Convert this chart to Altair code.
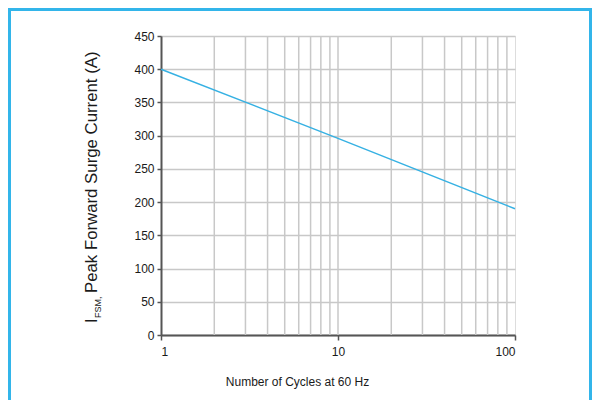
import altair as alt
import pandas as pd

# ---- data ----
cycles = [1, 10, 100]
current = [400, 296, 190]
x_grid = [2, 3, 4, 5, 6, 7, 8, 9, 10, 20, 30, 40, 50, 60, 70, 80, 90]
x_ticks = [1, 10, 100]
y_ticks = [0, 50, 100, 150, 200, 250, 300, 350, 400, 450]
x_title = "Number of Cycles at 60 Hz"
y_title_main = "Peak Forward Surge Current (A)"
y_title_i = "I"
y_title_sub = "FSM,"

FONT = "Liberation Sans"
GRID = "#c8c8c8"
AXIS = "#555555"
LINE = "#36b1e3"
FRAME = "#33b5ea"

df = pd.DataFrame({"cycles": cycles, "current": current})
grid_df = pd.DataFrame({"g": x_grid})

x_scale = alt.Scale(type="log", domain=[1, 100], nice=False)
y_scale = alt.Scale(domain=[0, 450], nice=False)

x_axis = alt.Axis(
    values=x_ticks, format="d", grid=False, title=x_title,
    labelFont=FONT, labelFontSize=12, labelColor="#1a1a1a", labelPadding=6,
    tickSize=5, tickColor=AXIS, tickWidth=1.5,
    domainColor=AXIS, domainWidth=2,
    titleFont=FONT, titleFontSize=12, titleFontWeight="normal", titleColor="#1a1a1a",
    titleX=136, titleY=50, titleAlign="center", titleBaseline="alphabetic",
)
y_axis = alt.Axis(
    values=y_ticks, grid=True, gridColor=GRID, gridWidth=1.5, title=None,
    labelFont=FONT, labelFontSize=12, labelColor="#1a1a1a", labelPadding=3,
    tickSize=4, tickColor=AXIS, tickWidth=1.5,
    domainColor=AXIS, domainWidth=2,
)

grid = alt.Chart(grid_df).mark_rule(color=GRID, strokeWidth=1.5).encode(
    x=alt.X("g:Q", scale=x_scale, axis=x_axis)
)

line = alt.Chart(df).mark_line(color=LINE, strokeWidth=1.5).encode(
    x=alt.X("cycles:Q", scale=x_scale, axis=x_axis),
    y=alt.Y("current:Q", scale=y_scale, axis=y_axis),
)

one = pd.DataFrame({"a": [0]})
frame = alt.Chart(one).mark_rect(fillOpacity=0, stroke=FRAME, strokeWidth=3).encode(
    x=alt.value(-151.5), x2=alt.value(429.5), y=alt.value(-26.5), y2=alt.value(420)
)

t_main = alt.Chart(pd.DataFrame({"t": [y_title_main]})).mark_text(
    angle=270, align="left", baseline="alphabetic", font=FONT, fontSize=16.8, color="#1a1a1a"
).encode(x=alt.value(-64), y=alt.value(257), text="t:N")
t_i = alt.Chart(pd.DataFrame({"t": [y_title_i]})).mark_text(
    angle=270, align="left", baseline="alphabetic", font=FONT, fontSize=16.8, color="#1a1a1a"
).encode(x=alt.value(-64), y=alt.value(287), text="t:N")
t_sub = alt.Chart(pd.DataFrame({"t": [y_title_sub]})).mark_text(
    angle=270, align="left", baseline="alphabetic", font=FONT, fontSize=9, color="#1a1a1a"
).encode(x=alt.value(-60), y=alt.value(282), text="t:N")

chart = alt.layer(grid, line, frame, t_main, t_i, t_sub).properties(
    width=354, height=299,
    autosize=alt.AutoSizeParams(type="none"),
    padding={"left": 153, "top": 28, "right": 77, "bottom": 65},
).configure_view(stroke=AXIS, strokeWidth=2).configure(background="white")

chart.save("out.html", embed_options={"renderer": "svg", "actions": False})
